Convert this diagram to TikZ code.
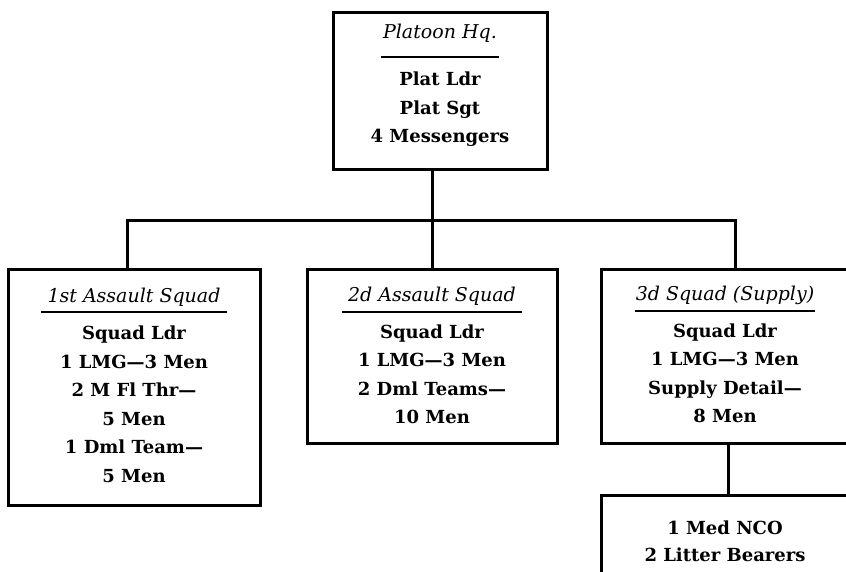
\documentclass[tikz,border=0pt]{standalone}
\usepackage{fontspec}
\setmainfont{DejaVu Serif}
\usetikzlibrary{calc}
\begin{document}
\begin{tikzpicture}[x=1pt,y=-1pt]
\tikzset{
  box/.style={draw=black, line width=3pt, rectangle, inner sep=0pt},
  conn/.style={draw=black, line width=3pt},
  uline/.style={draw=black, line width=2.6pt},
  ttl/.style={anchor=base, inner sep=0pt, font=\fontsize{19}{20}\selectfont\itshape},
  body/.style={anchor=base, inner sep=0pt, font=\fontsize{18}{20}\selectfont\bfseries}
}
\useasboundingbox (0,0) rectangle (846,572);
\clip (0,0) rectangle (846,572);
\fill[white] (0,0) rectangle (846,572);
% boxes
\node[box, minimum width=214pt, minimum height=157pt] (hq) at (440,91.5) {};
\node[box, minimum width=252pt, minimum height=236pt] (sq1) at (134,387) {};
\node[box, minimum width=250pt, minimum height=174pt] (sq2) at (432,356) {};
\node[box, minimum width=248pt, minimum height=174pt] (sq3) at (725,356) {};
\node[box, minimum width=248pt, minimum height=100pt] (med) at (725,545) {};
% connectors
\coordinate (bl) at (127,221);
\coordinate (br) at (735,221);
\coordinate (v3) at (728,469);
\draw[conn] (bl|-sq1.north) -- (bl) -- (br) -- (br|-sq3.north);
\draw[conn] (hq.south-|sq2.north) -- (sq2.north);
\draw[conn] (v3|-sq3.south) -- (v3|-med.north);
% Platoon Hq
\node[ttl] (t0) at (440,39) {Platoon Hq.};
\draw[uline] ($(t0.base)+(-59,18)$) -- ($(t0.base)+(59,18)$);
\node[body] (a1) at (440,86) {Plat Ldr};
\node[body] (a2) at (440,114.5) {Plat Sgt};
\node[body] (a3) at (440,143) {4 Messengers};
% 1st squad
\node[ttl] (t1) at (134,302) {1st Assault Squad};
\draw[uline] ($(t1.base)+(-93,10)$) -- ($(t1.base)+(93,10)$);
\node[body] (b1) at (134,339) {Squad Ldr};
\node[body] (b2) at (134,368) {1 LMG—3 Men};
\node[body] (b3) at (134,396.5) {2 M Fl Thr—};
\node[body] (b4) at (134,425) {5 Men};
\node[body] (b5) at (134,453.5) {1 Dml Team—};
\node[body] (b6) at (134,482) {5 Men};
% 2d squad
\node[ttl] (t2) at (432,301) {2d Assault Squad};
\draw[uline] ($(t2.base)+(-90,11)$) -- ($(t2.base)+(90,11)$);
\node[body] (c1) at (432,338) {Squad Ldr};
\node[body] (c2) at (432,366.5) {1 LMG—3 Men};
\node[body] (c3) at (432,395) {2 Dml Teams—};
\node[body] (c4) at (432,423) {10 Men};
% 3d squad
\node[ttl] (t3) at (725,300) {3d Squad (Supply)};
\draw[uline] ($(t3.base)+(-90,11)$) -- ($(t3.base)+(90,11)$);
\node[body] (d1) at (725,337) {Squad Ldr};
\node[body] (d2) at (725,365.5) {1 LMG—3 Men};
\node[body] (d3) at (725,394) {Supply Detail—};
\node[body] (d4) at (725,422) {8 Men};
% medical
\node[body] (e1) at (725,534) {1 Med NCO};
\node[body] (e2) at (725,561) {2 Litter Bearers};
\end{tikzpicture}
\end{document}
